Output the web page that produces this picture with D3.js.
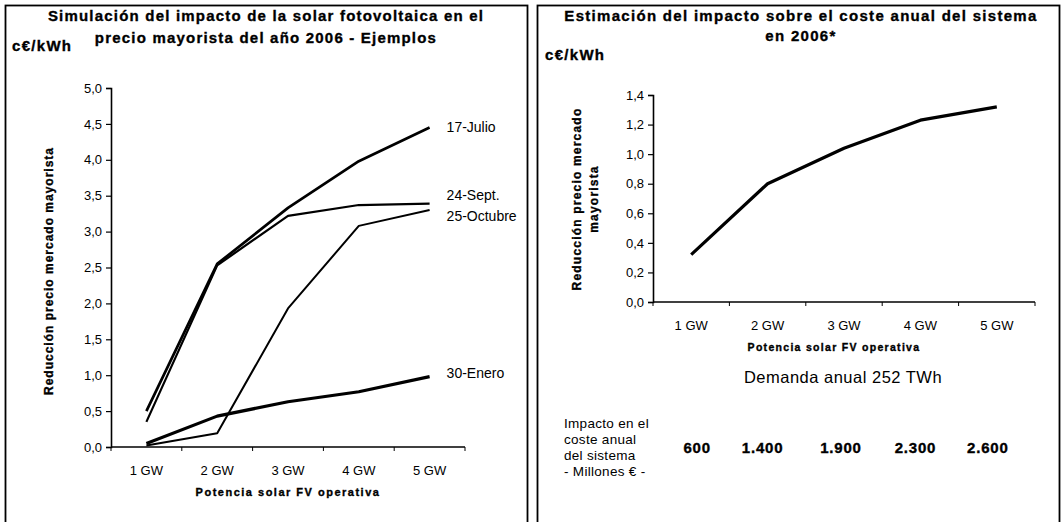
<!DOCTYPE html>
<html>
<head>
<meta charset="utf-8">
<script src="https://cdn.jsdelivr.net/npm/d3@7/dist/d3.min.js"></script>
<style>
  html, body { margin: 0; padding: 0; background: #fff; }
  svg { display: block; }
  text { font-family: "Liberation Sans", Arial, sans-serif; fill: #000; }
  text.heavy { font-weight: bold; stroke: #000; stroke-width: 0.35px; }
</style>
</head>
<body>
<svg id="chart" width="1062" height="522"></svg>
<script>
// Installed PV capacity (categories shared by both panels)
const categories = ["1 GW", "2 GW", "3 GW", "4 GW", "5 GW"];

// Left panel: reduction of wholesale price on sample days (c€/kWh)
const julio17   = [0.50, 2.55, 3.33, 3.98, 4.45];
const sept24    = [0.35, 2.53, 3.22, 3.37, 3.39];
const octubre25 = [0.02, 0.19, 1.93, 3.08, 3.30];
const enero30   = [0.05, 0.43, 0.63, 0.77, 0.98];
const leftSeriesNames = ["17-Julio", "24-Sept.", "25-Octubre", "30-Enero"];
const leftTicks = [0, 0.5, 1, 1.5, 2, 2.5, 3, 3.5, 4, 4.5, 5];

// Right panel: estimated annual average reduction (c€/kWh)
const anual2006 = [0.32, 0.80, 1.04, 1.23, 1.32];
const rightTicks = [0, 0.2, 0.4, 0.6, 0.8, 1.0, 1.2, 1.4];

// Impact on the annual system cost (millions €)
const costeAnual = ["600", "1.400", "1.900", "2.300", "2.600"];

const svg = d3.select("#chart");
const fmt = d => d3.format(".1f")(d).replace(".", ",");

// Panel frames
svg.append("rect").attr("x", 5.5).attr("y", 5.5).attr("width", 522).attr("height", 530)
  .attr("fill", "none").attr("stroke", "#000").attr("stroke-width", 1.8);
svg.append("rect").attr("x", 537.5).attr("y", 5.5).attr("width", 522).attr("height", 530)
  .attr("fill", "none").attr("stroke", "#000").attr("stroke-width", 1.8);

function heavyText(g, x, y, size, spacing, str, anchor) {
  return g.append("text").attr("class", "heavy").attr("x", x).attr("y", y)
    .attr("text-anchor", anchor || "start")
    .style("font-size", size + "px").style("letter-spacing", spacing + "px").text(str);
}

function drawAxes(g, x, y, ticks, x0, x1, y0) {
  // y axis
  const ya = g.append("g").attr("transform", `translate(${x0},0)`)
    .call(d3.axisLeft(y).tickValues(ticks).tickFormat(fmt).tickSize(5).tickPadding(4));
  ya.select(".domain").attr("stroke", "#000").attr("stroke-width", 1.6);
  ya.selectAll(".tick line").attr("stroke", "#000").attr("stroke-width", 1.2);
  ya.selectAll("text").style("font-size", "13px").style("font-family", '"Liberation Sans", Arial, sans-serif');
  // x axis (category axis, ticks between categories)
  const xa = g.append("g").attr("transform", `translate(0,${y0})`);
  xa.append("line").attr("x1", x0).attr("x2", x1).attr("y1", 0).attr("y2", 0)
    .attr("stroke", "#000").attr("stroke-width", 1.6);
  const bounds = categories.map(c => x(c) - x.step() / 2).concat([x1]);
  xa.selectAll("line.tk").data(bounds).join("line").attr("class", "tk")
    .attr("x1", d => d).attr("x2", d => d).attr("y1", 0).attr("y2", 4)
    .attr("stroke", "#000").attr("stroke-width", 1);
  xa.selectAll("text.cat").data(categories).join("text").attr("class", "cat")
    .attr("x", d => x(d)).attr("y", 28).attr("text-anchor", "middle")
    .style("font-size", "13px").text(d => d);
}

// ---------- Left panel ----------
{
  const g = svg.append("g");
  const x0 = 111, x1 = 465, yTop = 88, yBot = 447;
  const x = d3.scalePoint().domain(categories).range([x0, x1]).padding(0.5);
  const y = d3.scaleLinear().domain([0, 5]).range([yBot, yTop]);

  heavyText(g, 266, 21, 15, 1.2, "Simulación del impacto de la solar fotovoltaica en el", "middle");
  heavyText(g, 266, 43, 15, 1.2, "precio mayorista del año 2006 - Ejemplos", "middle");
  heavyText(g, 12, 51, 15, 1.3, "c€/kWh");

  drawAxes(g, x, y, leftTicks, x0, x1, yBot);

  heavyText(g, 0, 0, 12, 1.0, "Reducción precio mercado mayorista", "middle")
    .attr("transform", `translate(53,271) rotate(-90)`);
  heavyText(g, (x0 + x1) / 2, 496, 11, 1.5, "Potencia solar FV operativa", "middle");

  const series = [julio17, sept24, octubre25, enero30];
  const widths = [2.7, 2.2, 2.0, 3.2];
  const labelDy = [5, -4, 11, 1];
  const line = d3.line().x((d, i) => x(categories[i])).y(d => y(d));
  series.forEach((s, k) => {
    g.append("path").datum(s).attr("d", line).attr("fill", "none")
      .attr("stroke", "#000").attr("stroke-width", widths[k]).attr("stroke-linejoin", "round");
    g.append("text").attr("x", x(categories[4]) + 17).attr("y", y(s[4]) + labelDy[k])
      .style("font-size", "14px").text(leftSeriesNames[k]);
  });
}

// ---------- Right panel ----------
{
  const g = svg.append("g");
  const x0 = 653, x1 = 1035, yTop = 95, yBot = 302;
  const x = d3.scalePoint().domain(categories).range([x0, x1]).padding(0.5);
  const y = d3.scaleLinear().domain([0, 1.4]).range([yBot, yTop]);

  heavyText(g, 801, 21, 15, 1.3, "Estimación del impacto sobre el coste anual del sistema", "middle");
  heavyText(g, 801, 41, 15, 1.3, "en 2006*", "middle");
  heavyText(g, 545, 60, 15, 1.3, "c€/kWh");

  drawAxes(g, x, y, rightTicks, x0, x1, yBot);

  const yc = 199;
  heavyText(g, 0, 0, 12, 1.2, "Reducción precio mercado", "middle")
    .attr("transform", `translate(581,${yc}) rotate(-90)`);
  heavyText(g, 0, 0, 12, 1.2, "mayorista", "middle")
    .attr("transform", `translate(598,${yc}) rotate(-90)`);
  heavyText(g, (x0 + x1) / 2 - 10, 351, 10.5, 1.3, "Potencia solar FV operativa", "middle");

  const line = d3.line().x((d, i) => x(categories[i])).y(d => y(d));
  g.append("path").datum(anual2006).attr("d", line).attr("fill", "none")
    .attr("stroke", "#000").attr("stroke-width", 3.2).attr("stroke-linejoin", "round");

  g.append("text").attr("x", 843).attr("y", 383).attr("text-anchor", "middle")
    .style("font-size", "16.5px").style("letter-spacing", "0.5px").text("Demanda anual 252 TWh");

  const note = ["Impacto en el", "coste anual", "del sistema", "- Millones € -"];
  g.selectAll("text.note").data(note).join("text").attr("class", "note")
    .attr("x", 564).attr("y", (d, i) => 428 + i * 16)
    .style("font-size", "13.5px").style("letter-spacing", "0.3px").text(d => d);

  g.selectAll("text.cost").data(costeAnual).join("text").attr("class", "cost heavy")
    .attr("x", (d, i) => x(categories[i]) + [6, -5, -3, -5, -9][i]).attr("y", 453)
    .attr("text-anchor", "middle").style("font-size", "15px").style("letter-spacing", "0.8px")
    .text(d => d);
}
</script>
</body>
</html>
